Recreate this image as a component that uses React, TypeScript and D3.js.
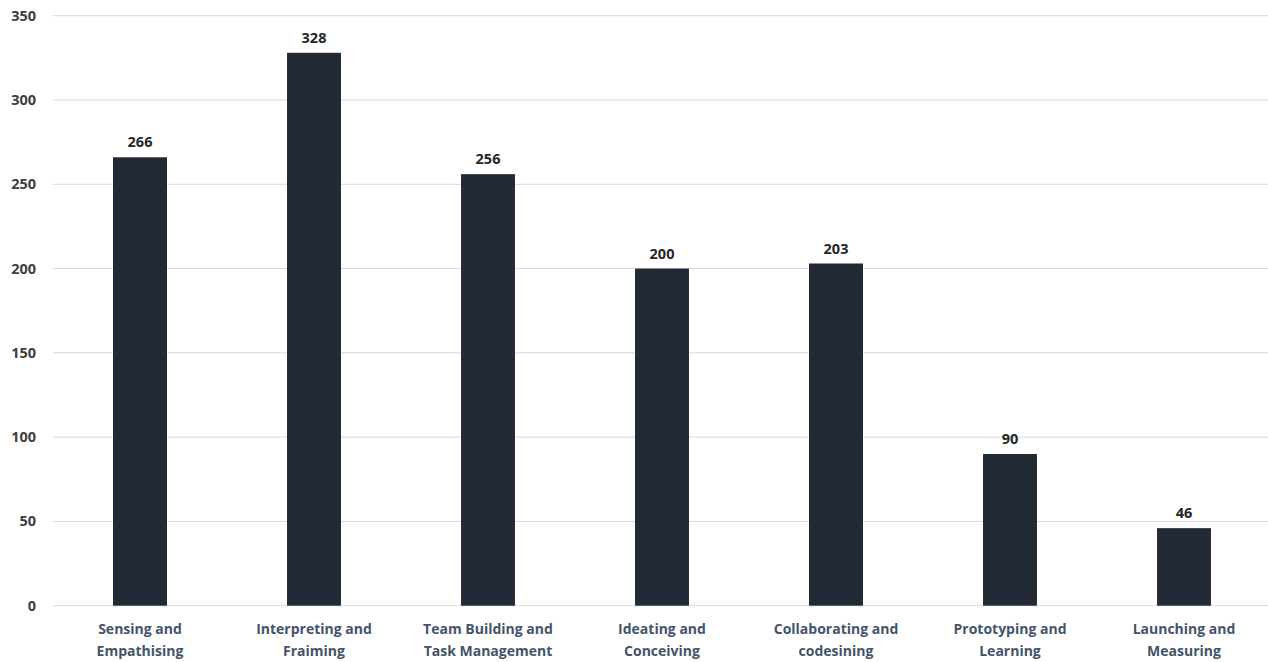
import React from "react";
import * as d3 from "d3";

const categories: string[][] = [
  ["Sensing and", "Empathising"],
  ["Interpreting and", "Fraiming"],
  ["Team Building and", "Task Management"],
  ["Ideating and", "Conceiving"],
  ["Collaborating and", "codesining"],
  ["Prototyping and", "Learning"],
  ["Launching and", "Measuring"],
];
const values: number[] = [266, 328, 256, 200, 203, 90, 46];
const yTicks: number[] = [0, 50, 100, 150, 200, 250, 300, 350];

const W = 1268;
const H = 662;
const left = 53;
const right = 1271;
const top = 15.7;
const bottom = 605.7;
const FONT = "'Open Sans', sans-serif";

export default function App() {
  const x = d3
    .scaleBand<number>()
    .domain(d3.range(values.length))
    .range([left, right])
    .paddingInner(0.69)
    .paddingOuter(0.345);
  const y = d3.scaleLinear().domain([0, 350]).range([bottom, top]);

  return (
    <svg
      width={W}
      height={H}
      style={{ position: "absolute", left: 0, top: 0, fontFamily: FONT }}
    >
      {yTicks.map((t) => (
        <g key={t}>
          <line
            x1={left}
            x2={W}
            y1={y(t)}
            y2={y(t)}
            stroke="#d9d9d9"
            strokeWidth={1}
          />
          <text
            x={36}
            y={y(t)}
            dy="0.35em"
            textAnchor="end"
            fontSize={14.5}
            fontWeight="bold"
            fill="#404040"
          >
            {t}
          </text>
        </g>
      ))}
      {values.map((v, i) => {
        const bx = x(i)!;
        const cx = bx + x.bandwidth() / 2;
        return (
          <g key={i}>
            <rect
              x={bx}
              y={y(v)}
              width={x.bandwidth()}
              height={y(0) - y(v)}
              fill="#222a35"
            />
            <text
              x={cx}
              y={y(v) - 10}
              textAnchor="middle"
              fontSize={14.5}
              fontWeight="bold"
              fill="#262626"
            >
              {v}
            </text>
            {categories[i].map((line, j) => (
              <text
                key={j}
                x={cx}
                y={634 + j * 22}
                textAnchor="middle"
                fontSize={14}
                fontWeight="bold"
                fill="#44546a"
              >
                {line}
              </text>
            ))}
          </g>
        );
      })}
    </svg>
  );
}
